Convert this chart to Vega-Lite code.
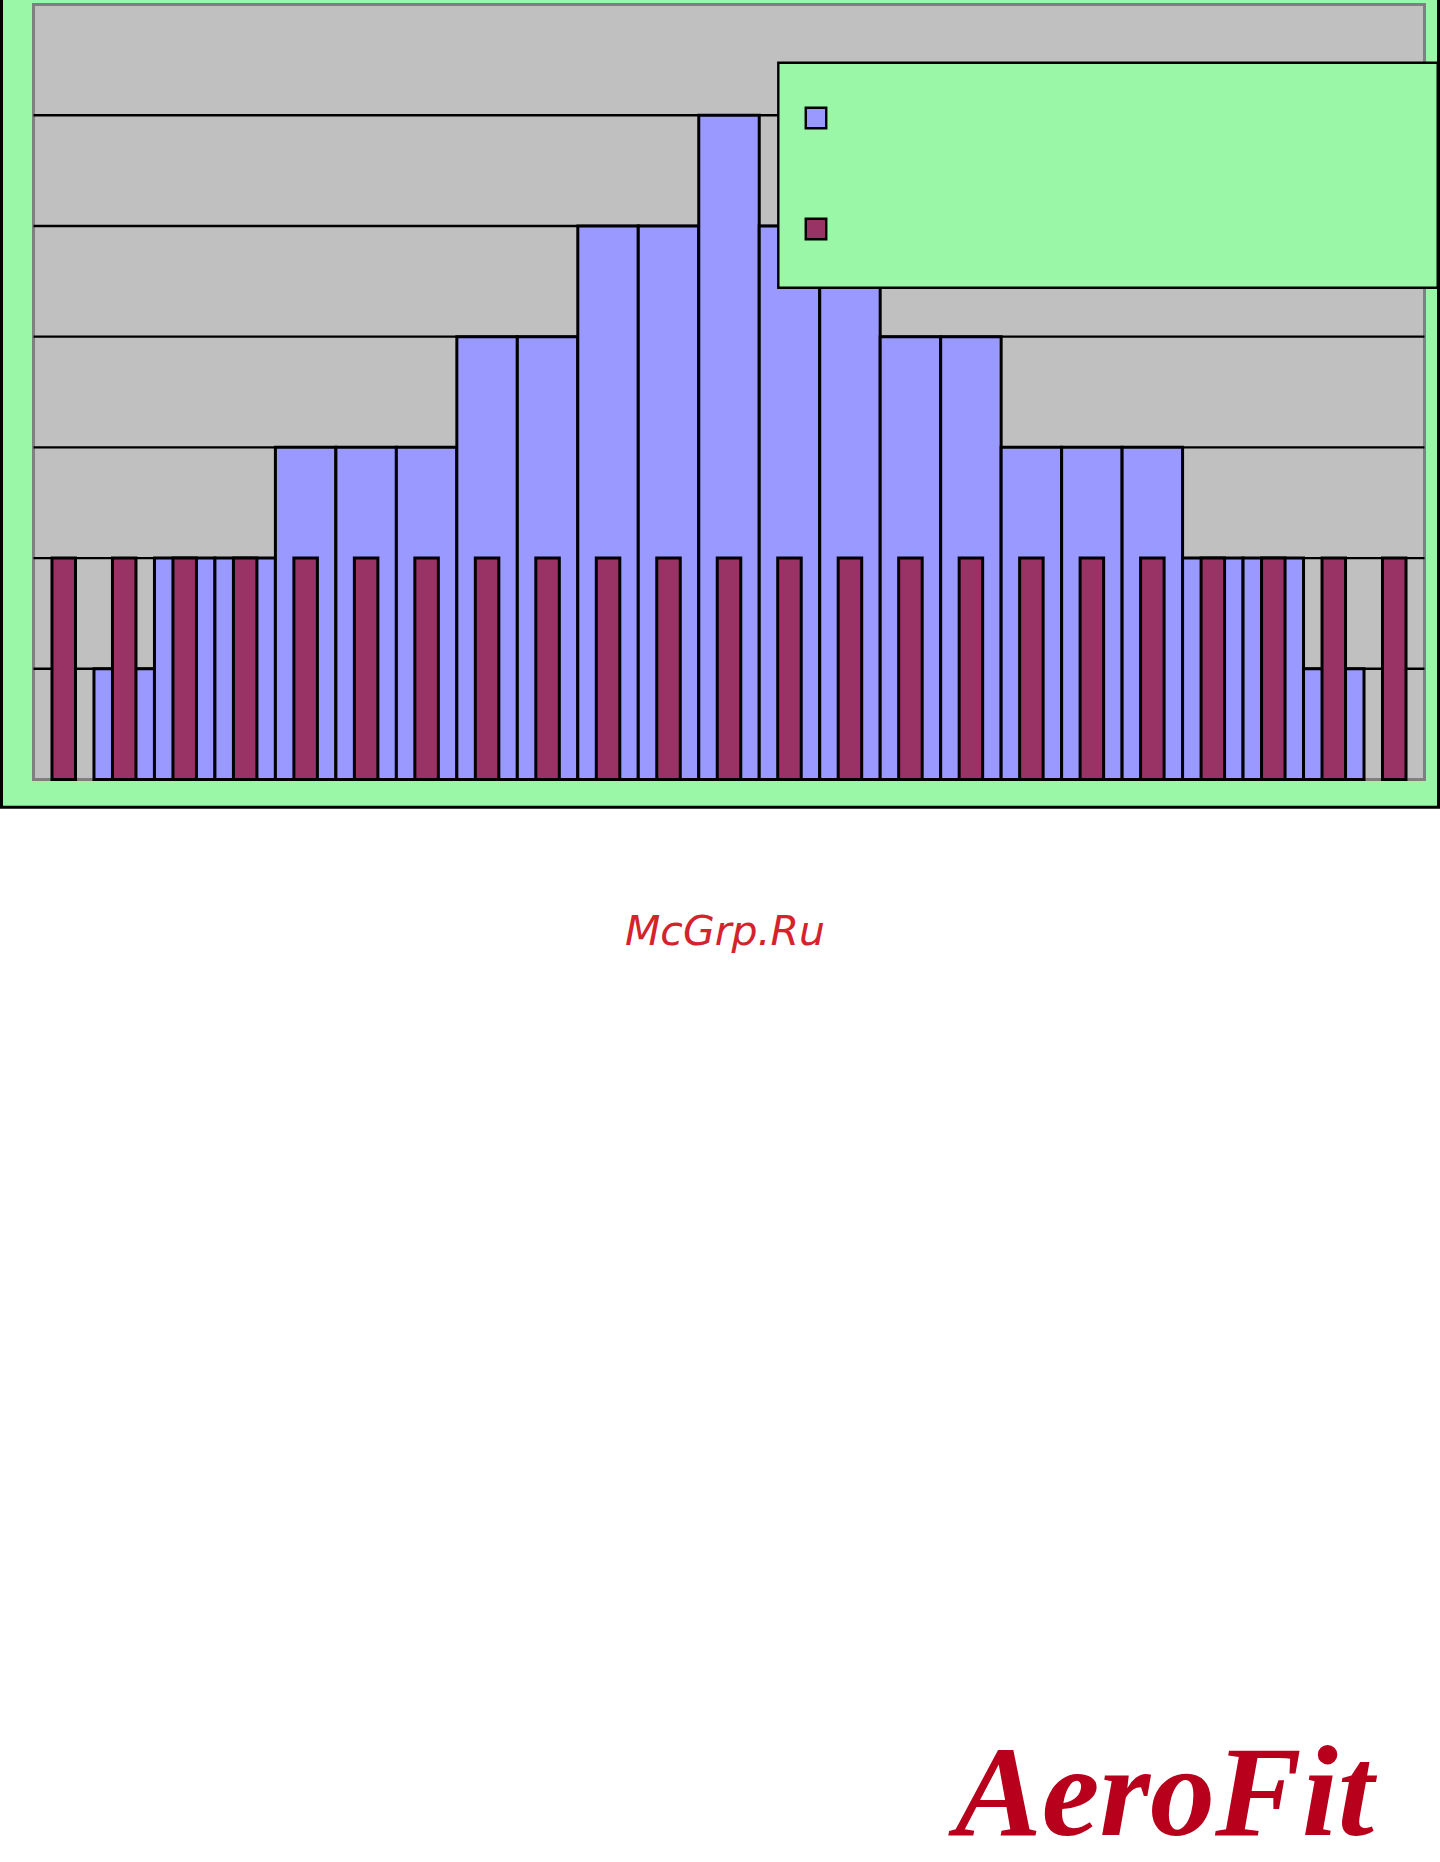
{
  "$schema": "https://vega.github.io/schema/vega-lite/v6.json",
  "width": 1440,
  "height": 1862,
  "autosize": {"type": "none"},
  "padding": 0,
  "background": "white",
  "config": {"view": {"stroke": null}, "scale": {"continuousPadding": 0}},
  "datasets": {
    "bars": [
      {"n": 1, "blue": 0, "maroon": 2},
      {"n": 2, "blue": 1, "maroon": 2},
      {"n": 3, "blue": 2, "maroon": 2},
      {"n": 4, "blue": 2, "maroon": 2},
      {"n": 5, "blue": 3, "maroon": 2},
      {"n": 6, "blue": 3, "maroon": 2},
      {"n": 7, "blue": 3, "maroon": 2},
      {"n": 8, "blue": 4, "maroon": 2},
      {"n": 9, "blue": 4, "maroon": 2},
      {"n": 10, "blue": 5, "maroon": 2},
      {"n": 11, "blue": 5, "maroon": 2},
      {"n": 12, "blue": 6, "maroon": 2},
      {"n": 13, "blue": 5, "maroon": 2},
      {"n": 14, "blue": 5, "maroon": 2},
      {"n": 15, "blue": 4, "maroon": 2},
      {"n": 16, "blue": 4, "maroon": 2},
      {"n": 17, "blue": 3, "maroon": 2},
      {"n": 18, "blue": 3, "maroon": 2},
      {"n": 19, "blue": 3, "maroon": 2},
      {"n": 20, "blue": 2, "maroon": 2},
      {"n": 21, "blue": 2, "maroon": 2},
      {"n": 22, "blue": 1, "maroon": 2},
      {"n": 23, "blue": 0, "maroon": 2}
    ],
    "grid": [{"level": 1}, {"level": 2}, {"level": 3}, {"level": 4}, {"level": 5}, {"level": 6}],
    "one": [{}]
  },
  "layer": [
    {
      "data": {"name": "one"},
      "mark": {"type": "rect", "fill": "#9AF7A8", "stroke": "black", "strokeWidth": 3},
      "encoding": {
        "x": {"datum": -0.0291, "type": "quantitative", "scale": {"domain": [-0.0539, 23.7564], "nice": false, "zero": false, "padding": 0}, "axis": null},
        "x2": {"datum": 23.7316},
        "y": {"datum": 7.0545, "type": "quantitative", "scale": {"domain": [-9.7778, 7.0409], "nice": false, "zero": false, "padding": 0}, "axis": null},
        "y2": {"datum": -0.2511}
      }
    },
    {
      "data": {"name": "one"},
      "mark": {"type": "rect", "fill": "#C0C0C0", "stroke": "#808080", "strokeWidth": 3},
      "encoding": {
        "x": {"datum": 0.5, "type": "quantitative", "scale": {"domain": [-0.0539, 23.7564], "nice": false, "zero": false, "padding": 0}, "axis": null},
        "x2": {"datum": 23.5},
        "y": {"datum": 7, "type": "quantitative", "scale": {"domain": [-9.7778, 7.0409], "nice": false, "zero": false, "padding": 0}, "axis": null},
        "y2": {"datum": 0}
      }
    },
    {
      "data": {"name": "grid"},
      "mark": {"type": "rule", "stroke": "black", "strokeWidth": 2.4},
      "encoding": {
        "x": {"datum": 0.5, "type": "quantitative", "scale": {"domain": [-0.0539, 23.7564], "nice": false, "zero": false, "padding": 0}, "axis": null},
        "x2": {"datum": 23.5},
        "y": {"field": "level", "type": "quantitative", "scale": {"domain": [-9.7778, 7.0409], "nice": false, "zero": false, "padding": 0}, "axis": null}
      }
    },
    {
      "data": {"name": "bars"},
      "transform": [{"filter": "datum.blue > 0"}],
      "mark": {"type": "bar", "fill": "#9999FF", "stroke": "black", "strokeWidth": 3, "width": 60.48},
      "encoding": {
        "x": {"field": "n", "type": "quantitative", "scale": {"domain": [-0.0539, 23.7564], "nice": false, "zero": false, "padding": 0}, "axis": null},
        "y": {"field": "blue", "type": "quantitative", "stack": null, "scale": {"domain": [-9.7778, 7.0409], "nice": false, "zero": false, "padding": 0}, "axis": null},
        "y2": {"datum": 0}
      }
    },
    {
      "data": {"name": "bars"},
      "mark": {"type": "bar", "fill": "#993366", "stroke": "black", "strokeWidth": 3, "width": 23.5},
      "encoding": {
        "x": {"field": "n", "type": "quantitative", "scale": {"domain": [-0.0539, 23.7564], "nice": false, "zero": false, "padding": 0}, "axis": null},
        "y": {"field": "maroon", "type": "quantitative", "stack": null, "scale": {"domain": [-9.7778, 7.0409], "nice": false, "zero": false, "padding": 0}, "axis": null},
        "y2": {"datum": 0}
      }
    },
    {
      "data": {"name": "one"},
      "mark": {"type": "rect", "fill": "#9AF7A8", "stroke": "black", "strokeWidth": 2.4},
      "encoding": {
        "x": {"datum": 12.8153, "type": "quantitative", "scale": {"domain": [-0.0539, 23.7564], "nice": false, "zero": false, "padding": 0}, "axis": null},
        "x2": {"datum": 23.7184},
        "y": {"datum": 6.4746, "type": "quantitative", "scale": {"domain": [-9.7778, 7.0409], "nice": false, "zero": false, "padding": 0}, "axis": null},
        "y2": {"datum": 4.4423}
      }
    },
    {
      "data": {"name": "one"},
      "mark": {"type": "point", "shape": "square", "filled": true, "fill": "#9999FF", "stroke": "black", "strokeWidth": 2.4, "size": 420, "opacity": 1},
      "encoding": {
        "x": {"datum": 13.4386, "type": "quantitative", "scale": {"domain": [-0.0539, 23.7564], "nice": false, "zero": false, "padding": 0}, "axis": null},
        "y": {"datum": 5.975, "type": "quantitative", "scale": {"domain": [-9.7778, 7.0409], "nice": false, "zero": false, "padding": 0}, "axis": null}
      }
    },
    {
      "data": {"name": "one"},
      "mark": {"type": "point", "shape": "square", "filled": true, "fill": "#993366", "stroke": "black", "strokeWidth": 2.4, "size": 420, "opacity": 1},
      "encoding": {
        "x": {"datum": 13.4386, "type": "quantitative", "scale": {"domain": [-0.0539, 23.7564], "nice": false, "zero": false, "padding": 0}, "axis": null},
        "y": {"datum": 4.9725, "type": "quantitative", "scale": {"domain": [-9.7778, 7.0409], "nice": false, "zero": false, "padding": 0}, "axis": null}
      }
    },
    {
      "data": {"name": "one"},
      "mark": {"type": "text", "text": "McGrp.Ru", "font": "DejaVu Sans", "fontStyle": "italic", "fontSize": 41, "fill": "#D5232B", "align": "center", "baseline": "alphabetic"},
      "encoding": {
        "x": {"datum": 11.934, "type": "quantitative", "scale": {"domain": [-0.0539, 23.7564], "nice": false, "zero": false, "padding": 0}, "axis": null},
        "y": {"datum": -1.4949, "type": "quantitative", "scale": {"domain": [-9.7778, 7.0409], "nice": false, "zero": false, "padding": 0}, "axis": null}
      }
    },
    {
      "data": {"name": "one"},
      "mark": {"type": "text", "text": "AeroFit", "font": "Liberation Serif", "fontStyle": "italic", "fontWeight": "bold", "fontSize": 130, "fill": "#B8001C", "align": "left", "baseline": "alphabetic"},
      "encoding": {
        "x": {"datum": 15.7373, "type": "quantitative", "scale": {"domain": [-0.0539, 23.7564], "nice": false, "zero": false, "padding": 0}, "axis": null},
        "y": {"datum": -9.534, "type": "quantitative", "scale": {"domain": [-9.7778, 7.0409], "nice": false, "zero": false, "padding": 0}, "axis": null}
      }
    }
  ]
}
